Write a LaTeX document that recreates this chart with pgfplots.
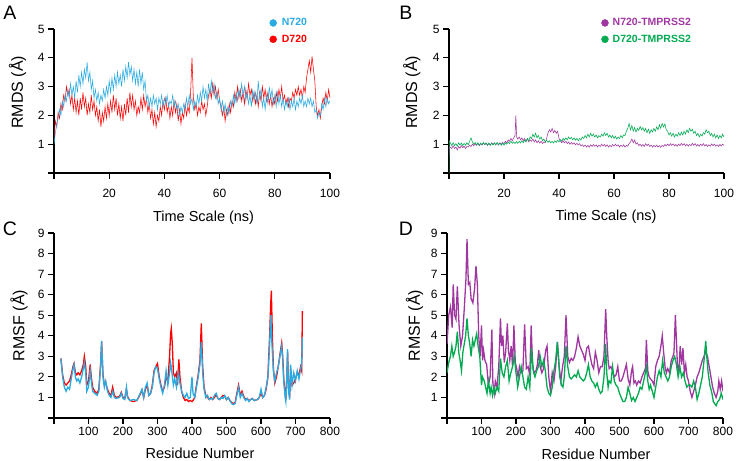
\documentclass[border=0pt]{standalone}
\usepackage{pgfplots}
\pgfplotsset{compat=1.18}
\usepackage{fontspec}
\setmainfont{Liberation Sans}
\definecolor{cblue}{RGB}{41,171,226}
\definecolor{cred}{RGB}{255,0,0}
\definecolor{cpurple}{RGB}{160,55,160}
\definecolor{cgreen}{RGB}{0,170,80}
\pgfplotsset{
 panel/.style={
  scale only axis,
  axis lines=left, axis line style={-, line width=1.2pt, black},
  tick align=outside, major tick length=6pt,
  tick style={black, line width=1.2pt},
  enlargelimits=false,
  ticklabel style={font=\fontsize{12}{14}\selectfont},
  xlabel style={font=\fontsize{14.5}{17}\selectfont, anchor=center},
  ylabel style={font=\fontsize{16}{19}\selectfont, anchor=center, rotate=0},
  legend style={draw=none, fill=none, inner sep=0pt, row sep=3.5pt,
    font=\fontsize{10.5}{12}\selectfont\bfseries, cells={anchor=west}},
  legend image code/.code={\fill[##1] (3.5pt,0pt) circle (3.5pt);},
 },
 rmsd/.style={panel, width=276pt, height=144pt, xmin=0, xmax=100, ymin=0, ymax=5,
  xtick={0,20,40,60,80,100}, xticklabels={,20,40,60,80,100},
  ytick={0,1,2,3,4,5}, yticklabels={,1,2,3,4,5},
  xticklabel style={yshift=-7pt},
  xlabel={Time Scale (ns)}, ylabel={RMDS (Å)}},
 rmsf/.style={panel, width=276pt, height=185pt, xmin=0, xmax=800, ymin=0, ymax=9,
  xtick={0,100,200,300,400,500,600,700,800}, xticklabels={,100,200,300,400,500,600,700,800},
  ytick={0,1,2,3,4,5,6,7,8,9}, yticklabels={,1,2,3,4,5,6,7,8,9},
  xlabel={Residue Number}, ylabel={RMSF (Å)}},
}
\begin{document}
\begin{tikzpicture}
\useasboundingbox (0pt,0pt) rectangle (740pt,461pt);
\node[font=\fontsize{19.5}{22}\selectfont] at (10pt,448.5pt) {A};
\node[font=\fontsize{19.5}{22}\selectfont] at (406pt,448.5pt) {B};
\node[font=\fontsize{19.5}{22}\selectfont] at (10pt,232pt) {C};
\node[font=\fontsize{19.5}{22}\selectfont] at (406pt,232pt) {D};
% ---------------- A
\begin{axis}[rmsd, at={(54pt,288pt)}, anchor=south west,
  xlabel style={at={(axis description cs:0.542,-0.3125)}},
  ylabel style={at={(axis description cs:-0.132,0.56)}},
  legend style={at={(0.78,1.088)}, anchor=north west}]
\addlegendimage{cblue}\addlegendentry{\hspace{3pt}\textcolor{cblue}{N720}}
\addlegendimage{cred}\addlegendentry{\hspace{3pt}\textcolor{cred}{D720}}
\addplot[cred, line width=0.55pt, forget plot] coordinates {
(0,1.2)(0.5,1.8)(1,1.6)(1.5,2.1)(2,1.9)(2.5,2.4)(3,2.2)(3.5,2.7)(4,2.5)(4.5,3.0)(5,2.7)(5.5,2.9)(6,2.4)(6.5,2.7)(7,2.2)(7.5,2.6)(8,2.1)(8.5,2.5)(9,2.0)(9.5,2.6)
(10,2.2)(10.5,2.8)(11,2.3)(11.5,2.6)(12,2.0)(12.5,2.4)(13,2.1)(13.5,2.7)(14,2.2)(14.5,2.5)(15,2.0)(15.5,2.3)(16,1.8)(16.5,2.2)(17,1.6)(17.5,2.1)(18,1.8)(18.5,2.3)(19,1.9)(19.5,2.4)
(20,2.0)(20.5,2.5)(21,2.1)(21.5,2.7)(22,2.2)(22.5,2.6)(23,2.0)(23.5,2.4)(24,1.9)(24.5,2.3)(25,1.8)(25.5,2.4)(26,2.0)(26.5,2.6)(27,2.1)(27.5,2.8)(28,2.3)(28.5,2.7)(29,2.2)(29.5,2.5)
(30,2.0)(30.5,2.3)(31,2.1)(31.5,2.6)(32,2.2)(32.5,2.7)(33,2.3)(33.5,2.6)(34,2.1)(34.5,2.4)(35,1.9)(35.5,2.2)(36,1.7)(36.5,2.1)(37,1.6)(37.5,2.0)(38,1.8)(38.5,2.3)(39,2.0)(39.5,2.5)
(40,2.2)(40.5,2.6)(41,2.1)(41.5,2.4)(42,1.9)(42.5,2.3)(43,2.0)(43.5,2.5)(44,2.1)(44.5,2.4)(45,1.8)(45.5,2.2)(46,1.7)(46.5,2.1)(47,1.9)(47.5,2.4)(48,2.0)(48.5,2.3)(49,2.1)(49.5,2.8)
(50,4.0)(50.5,2.6)(51,2.2)(51.5,2.4)(52,2.0)(52.5,2.3)(53,2.1)(53.5,2.5)(54,2.2)(54.5,2.4)(55,2.0)(55.5,2.3)(56,2.7)(56.5,2.9)(57,2.6)(57.5,3.1)(58,2.7)(58.5,3.0)(59,2.6)(59.5,2.9)
(60,2.5)(60.5,2.3)(61,2.0)(61.5,2.3)(62,1.8)(62.5,2.2)(63,2.0)(63.5,2.4)(64,2.1)(64.5,2.5)(65,2.3)(65.5,2.8)(66,2.5)(66.5,3.0)(67,2.6)(67.5,2.9)(68,2.5)(68.5,2.8)(69,2.4)(69.5,2.9)
(70,2.6)(70.5,3.1)(71,2.7)(71.5,2.9)(72,2.5)(72.5,2.8)(73,2.4)(73.5,2.7)(74,2.3)(74.5,2.8)(75,2.5)(75.5,3.0)(76,2.6)(76.5,2.9)(77,2.5)(77.5,2.8)(78,2.4)(78.5,2.7)(79,2.3)(79.5,2.6)
(80,2.4)(80.5,2.8)(81,2.5)(81.5,2.9)(82,2.6)(82.5,3.0)(83,2.5)(83.5,2.7)(84,2.4)(84.5,2.6)(85,2.3)(85.5,2.6)(86,2.5)(86.5,2.8)(87,2.6)(87.5,2.9)(88,2.7)(88.5,3.0)(89,2.7)(89.5,2.9)
(90,2.6)(90.5,3.0)(91,2.8)(91.5,3.3)(92,3.6)(92.5,3.9)(93,3.5)(93.5,4.05)(94,3.6)(94.5,3.2)(95,2.3)(95.5,2.0)(96,2.2)(96.5,1.9)(97,2.3)(97.5,2.6)(98,2.4)(98.5,2.8)(99,2.5)(99.5,2.9)(100,2.6)};
\addplot[cblue, line width=0.55pt, forget plot] coordinates {
(0,1.0)(0.5,1.4)(1,1.7)(1.5,1.9)(2,2.2)(2.5,2.0)(3,2.5)(3.5,2.3)(4,2.7)(4.5,2.5)(5,2.9)(5.5,2.6)(6,3.1)(6.5,2.7)(7,3.0)(7.5,2.6)(8,3.2)(8.5,2.8)(9,3.4)(9.5,3.0)
(10,3.5)(10.5,3.1)(11,3.6)(11.5,3.3)(12,3.85)(12.5,3.2)(13,3.5)(13.5,2.9)(14,3.2)(14.5,2.6)(15,2.9)(15.5,2.5)(16,2.8)(16.5,2.4)(17,2.7)(17.5,2.5)(18,2.9)(18.5,2.6)(19,3.0)(19.5,2.7)
(20,3.2)(20.5,2.8)(21,3.3)(21.5,2.9)(22,3.4)(22.5,3.0)(23,3.5)(23.5,3.1)(24,3.4)(24.5,3.0)(25,3.6)(25.5,3.2)(26,3.7)(26.5,3.3)(27,3.85)(27.5,3.4)(28,3.7)(28.5,3.2)(29,3.6)(29.5,3.1)
(30,3.5)(30.5,3.0)(31,3.6)(31.5,3.1)(32,3.5)(32.5,2.9)(33,3.2)(33.5,2.5)(34,2.7)(34.5,2.3)(35,2.6)(35.5,2.3)(36,2.7)(36.5,2.4)(37,2.6)(37.5,2.2)(38,2.6)(38.5,2.4)(39,2.7)(39.5,2.3)
(40,2.6)(40.5,2.4)(41,2.7)(41.5,2.3)(42,2.5)(42.5,2.4)(43,2.7)(43.5,2.3)(44,2.5)(44.5,2.2)(45,2.4)(45.5,2.0)(46,2.3)(46.5,2.1)(47,2.4)(47.5,2.2)(48,2.6)(48.5,2.3)(49,2.7)(49.5,2.4)
(50,2.6)(50.5,2.2)(51,2.5)(51.5,2.3)(52,2.7)(52.5,2.4)(53,2.8)(53.5,2.5)(54,3.0)(54.5,2.6)(55,2.9)(55.5,2.5)(56,3.1)(56.5,2.7)(57,3.2)(57.5,2.8)(58,3.1)(58.5,2.6)(59,2.8)(59.5,2.4)
(60,2.6)(60.5,2.2)(61,2.5)(61.5,2.1)(62,2.4)(62.5,2.0)(63,2.3)(63.5,2.1)(64,2.5)(64.5,2.3)(65,2.7)(65.5,2.4)(66,2.8)(66.5,2.5)(67,2.9)(67.5,2.6)(68,3.1)(68.5,2.7)(69,3.0)(69.5,2.5)
(70,2.8)(70.5,2.4)(71,2.7)(71.5,2.3)(72,2.9)(72.5,2.5)(73,2.8)(73.5,2.4)(74,3.2)(74.5,2.6)(75,2.9)(75.5,2.3)(76,2.6)(76.5,2.2)(77,2.7)(77.5,2.4)(78,3.0)(78.5,2.6)(79,2.9)(79.5,2.4)
(80,2.7)(80.5,2.3)(81,2.8)(81.5,2.4)(82,2.7)(82.5,2.3)(83,2.6)(83.5,2.2)(84,2.5)(84.5,2.3)(85,2.6)(85.5,2.2)(86,2.5)(86.5,2.3)(87,2.6)(87.5,2.2)(88,2.5)(88.5,2.3)(89,2.6)(89.5,2.4)
(90,2.7)(90.5,2.3)(91,2.5)(91.5,2.3)(92,2.6)(92.5,2.4)(93,2.6)(93.5,2.3)(94,2.5)(94.5,2.1)(95,2.2)(95.5,1.9)(96,2.1)(96.5,2.0)(97,2.4)(97.5,2.2)(98,2.6)(98.5,2.3)(99,2.6)(99.5,2.4)(100,2.5)};
\end{axis}
% ---------------- B
\begin{axis}[rmsd, at={(449pt,288pt)}, anchor=south west, width=275pt,
  xlabel style={at={(axis description cs:0.571,-0.306)}},
  ylabel style={at={(axis description cs:-0.135,0.56)}},
  legend style={at={(0.553,1.088)}, anchor=north west}]
\addlegendimage{cpurple}\addlegendentry{\hspace{2pt}\textcolor{cpurple}{N720-TMPRSS2}}
\addlegendimage{cgreen}\addlegendentry{\hspace{2pt}\textcolor{cgreen}{D720-TMPRSS2}}
\addplot[cpurple, line width=0.55pt, forget plot] coordinates {
(0,0.6)(0.2,0.9)(0.5,0.9)(1,0.85)(1.5,0.95)(2,0.85)(2.5,0.9)(3,0.8)(3.5,0.92)(4,0.86)(4.5,0.95)(5,0.88)(5.5,0.93)(6,0.85)(6.5,0.92)(7,0.9)(7.5,0.97)(8,0.92)(8.5,1.0)(9,0.95)(9.5,1.02)
(10,0.96)(10.5,1.03)(11,0.95)(11.5,1.02)(12,0.97)(12.5,1.04)(13,0.98)(13.5,1.03)(14,0.96)(14.5,1.02)(15,0.97)(15.5,1.05)(16,0.99)(16.5,1.04)(17,0.98)(17.5,1.03)(18,0.97)(18.5,1.05)(19,1.0)(19.5,1.06)
(20,1.02)(20.5,1.1)(21,1.05)(21.5,1.15)(22,1.1)(22.5,1.2)(23,1.12)(23.5,1.22)(24,1.3)(24.3,2.0)(24.6,1.25)(25,1.18)(25.5,1.25)(26,1.15)(26.5,1.22)(27,1.12)(27.5,1.2)(28,1.1)(28.5,1.18)(29,1.08)(29.5,1.15)
(30,1.1)(30.5,1.18)(31,1.08)(31.5,1.15)(32,1.05)(32.5,1.12)(33,1.04)(33.5,1.1)(34,1.02)(34.5,1.08)(35,1.05)(35.5,1.2)(36,1.4)(36.5,1.5)(37,1.42)(37.5,1.55)(38,1.4)(38.5,1.48)(39,1.38)(39.5,1.45)
(40,1.2)(40.5,1.12)(41,1.05)(41.5,1.12)(42,1.05)(42.5,1.1)(43,1.02)(43.5,1.08)(44,1.0)(44.5,1.06)(45,1.0)(45.5,1.05)(46,0.98)(46.5,1.03)(47,0.97)(47.5,1.02)(48,0.94)(48.5,0.98)(49,0.92)(49.5,0.97)
(50,0.9)(50.5,0.96)(51,0.9)(51.5,0.98)(52,0.92)(52.5,0.99)(53,0.93)(53.5,0.98)(54,0.9)(54.5,0.97)(55,0.92)(55.5,1.0)(56,0.94)(56.5,0.99)(57,0.92)(57.5,0.98)(58,0.9)(58.5,0.96)(59,0.91)(59.5,0.99)
(60,0.93)(60.5,1.0)(61,0.94)(61.5,0.98)(62,0.9)(62.5,0.97)(63,0.92)(63.5,0.98)(64,0.9)(64.5,0.96)(65,0.93)(65.5,1.02)(66,1.08)(66.5,1.18)(67,1.05)(67.5,1.15)(68,1.0)(68.5,1.05)(69,0.95)(69.5,1.0)
(70,0.93)(70.5,0.99)(71,0.92)(71.5,1.02)(72,0.95)(72.5,1.0)(73,0.92)(73.5,0.97)(74,0.9)(74.5,0.96)(75,0.91)(75.5,0.97)(76,0.9)(76.5,0.95)(77,0.89)(77.5,0.96)(78,0.92)(78.5,0.99)(79,0.94)(79.5,1.0)
(80,0.95)(80.5,1.02)(81,0.96)(81.5,1.01)(82,0.94)(82.5,0.99)(83,0.93)(83.5,1.0)(84,0.95)(84.5,1.03)(85,0.96)(85.5,1.02)(86,0.94)(86.5,1.0)(87,0.93)(87.5,0.99)(88,0.95)(88.5,1.03)(89,0.96)(89.5,1.02)
(90,0.94)(90.5,0.99)(91,0.93)(91.5,1.0)(92,0.95)(92.5,1.02)(93,0.94)(93.5,0.99)(94,0.92)(94.5,0.98)(95,0.93)(95.5,1.01)(96,0.95)(96.5,1.0)(97,0.93)(97.5,0.98)(98,0.92)(98.5,0.99)(99,0.94)(99.5,1.0)(100,0.96)};
\addplot[cgreen, line width=0.55pt, forget plot] coordinates {
(0,0.0)(0.1,1.12)(0.5,1.05)(1,0.95)(1.5,1.05)(2,0.95)(2.5,1.02)(3,0.93)(3.5,1.05)(4,0.97)(4.5,1.04)(5,0.95)(5.5,1.03)(6,0.96)(6.5,1.05)(7,0.98)(7.5,1.1)(8,1.22)(8.5,1.08)(9,1.0)(9.5,1.06)
(10,0.98)(10.5,1.05)(11,0.96)(11.5,1.04)(12,0.98)(12.5,1.06)(13,0.99)(13.5,1.05)(14,0.97)(14.5,1.04)(15,0.96)(15.5,1.03)(16,0.97)(16.5,1.05)(17,0.98)(17.5,1.06)(18,0.99)(18.5,1.04)(19,0.96)(19.5,1.03)
(20,0.97)(20.5,1.05)(21,1.0)(21.5,1.07)(22,1.02)(22.5,1.1)(23,1.03)(23.5,1.08)(24,1.02)(24.5,1.09)(25,1.03)(25.5,1.1)(26,1.04)(26.5,1.12)(27,1.05)(27.5,1.15)(28,1.08)(28.5,1.2)(29,1.12)(29.5,1.25)
(30,1.2)(30.5,1.35)(31,1.25)(31.5,1.38)(32,1.22)(32.5,1.3)(33,1.18)(33.5,1.25)(34,1.12)(34.5,1.18)(35,1.08)(35.5,1.14)(36,1.06)(36.5,1.12)(37,1.05)(37.5,1.1)(38,1.04)(38.5,1.12)(39,1.06)(39.5,1.14)
(40,1.08)(40.5,1.16)(41,1.1)(41.5,1.2)(42,1.14)(42.5,1.22)(43,1.15)(43.5,1.25)(44,1.18)(44.5,1.24)(45,1.15)(45.5,1.22)(46,1.14)(46.5,1.2)(47,1.12)(47.5,1.2)(48,1.15)(48.5,1.25)(49,1.2)(49.5,1.3)
(50,1.22)(50.5,1.35)(51,1.25)(51.5,1.38)(52,1.28)(52.5,1.35)(53,1.25)(53.5,1.32)(54,1.22)(54.5,1.3)(55,1.25)(55.5,1.35)(56,1.28)(56.5,1.4)(57,1.3)(57.5,1.38)(58,1.25)(58.5,1.32)(59,1.22)(59.5,1.3)
(60,1.2)(60.5,1.28)(61,1.18)(61.5,1.25)(62,1.2)(62.5,1.3)(63,1.22)(63.5,1.32)(64,1.3)(64.5,1.45)(65,1.55)(65.5,1.72)(66,1.5)(66.5,1.65)(67,1.45)(67.5,1.58)(68,1.42)(68.5,1.55)(69,1.48)(69.5,1.62)
(70,1.5)(70.5,1.58)(71,1.45)(71.5,1.55)(72,1.4)(72.5,1.52)(73,1.38)(73.5,1.5)(74,1.42)(74.5,1.55)(75,1.45)(75.5,1.6)(76,1.5)(76.5,1.68)(77,1.55)(77.5,1.72)(78,1.6)(78.5,1.7)(79,1.5)(79.5,1.45)
(80,1.32)(80.5,1.4)(81,1.28)(81.5,1.38)(82,1.25)(82.5,1.35)(83,1.28)(83.5,1.4)(84,1.3)(84.5,1.42)(85,1.32)(85.5,1.45)(86,1.35)(86.5,1.5)(87,1.4)(87.5,1.55)(88,1.45)(88.5,1.52)(89,1.38)(89.5,1.45)
(90,1.3)(90.5,1.38)(91,1.25)(91.5,1.35)(92,1.28)(92.5,1.4)(93,1.35)(93.5,1.5)(94,1.4)(94.5,1.45)(95,1.3)(95.5,1.38)(96,1.25)(96.5,1.35)(97,1.22)(97.5,1.32)(98,1.2)(98.5,1.3)(99,1.22)(99.5,1.35)(100,1.25)};
\end{axis}
% ---------------- C
\begin{axis}[rmsf, at={(54pt,43pt)}, anchor=south west,
  xlabel style={at={(axis description cs:0.529,-0.189)}},
  ylabel style={at={(axis description cs:-0.127,0.5)}}]
\addplot[cred, line width=1.3pt] coordinates {
(20,2.9)(25,2.1)(30,1.7)(35,1.6)(40,1.7)(45,1.8)(50,2.1)(55,2.5)(58,2.65)(62,2.2)(66,2.1)(70,2.2)(75,2.1)(80,2.3)(85,2.6)(88,3.0)(92,2.5)(95,1.6)(100,1.8)(105,2.6)(108,2.0)(112,1.5)(118,1.3)(125,1.2)(130,1.4)(135,2.6)(138,3.7)(142,2.1)(146,1.6)(150,1.7)(155,1.4)(160,1.2)(165,1.1)(170,1.5)(175,1.1)(180,1.0)(190,1.05)(195,1.25)(200,1.0)(205,0.95)(210,1.4)(213,1.05)(220,0.85)(230,0.8)(240,0.85)(250,1.15)(255,1.35)(260,1.0)(265,1.4)(270,1.6)(275,1.1)(280,1.2)(285,1.6)(290,2.3)(295,2.5)(300,2.65)(305,2.0)(310,1.6)(315,1.3)(320,1.5)(325,2.0)(330,1.8)(335,3.0)(338,4.1)(340,4.35)(343,3.6)(346,2.2)(350,2.0)(355,2.2)(358,1.6)(362,2.85)(365,2.0)(370,1.3)(375,1.0)(380,0.85)(385,0.9)(390,0.8)(395,0.85)(400,0.8)(403,0.85)(408,1.0)(412,1.5)(418,2.1)(423,2.8)(427,4.6)(431,2.5)(435,1.5)(440,1.1)(445,1.0)(450,0.9)(455,1.0)(460,0.9)(465,1.0)(470,1.15)(475,0.95)(480,0.9)(485,1.0)(490,1.1)(495,1.05)(500,0.9)(505,1.0)(510,0.85)(515,0.75)(520,0.7)(525,0.75)(530,1.2)(535,1.6)(540,1.1)(545,1.3)(550,1.05)(555,0.9)(560,0.95)(565,0.85)(570,0.9)(575,0.95)(580,0.85)(590,0.9)(595,1.0)(600,1.2)(605,1.0)(610,1.1)(615,1.4)(620,2.0)(625,4.0)(628,5.5)(630,6.2)(633,4.0)(636,2.4)(640,1.7)(645,2.0)(650,2.5)(655,3.1)(660,3.65)(663,3.0)(666,1.9)(670,1.2)(672,0.9)(675,2.0)(677,3.2)(680,1.5)(683,1.0)(686,2.4)(690,1.6)(695,1.7)(700,1.9)(705,2.2)(710,2.1)(715,2.5)(718,2.3)(720,5.2)};
\addplot[cblue, line width=1.3pt] coordinates {
(20,2.9)(25,2.0)(30,1.5)(35,1.3)(40,1.5)(45,1.4)(50,1.9)(55,2.4)(58,2.6)(62,2.0)(66,1.8)(70,1.9)(75,1.7)(80,2.0)(85,2.4)(88,2.7)(92,2.2)(95,1.3)(100,1.5)(105,2.3)(108,1.8)(112,1.3)(118,1.2)(125,1.1)(130,1.3)(135,2.5)(138,3.75)(142,2.0)(146,1.5)(150,1.8)(155,1.3)(160,1.1)(165,1.0)(170,1.3)(175,1.0)(180,0.95)(190,1.0)(195,1.2)(200,0.95)(205,0.9)(210,1.5)(213,1.0)(220,0.85)(230,0.9)(240,0.85)(250,1.2)(255,1.4)(260,1.0)(265,1.5)(270,1.7)(275,1.1)(280,1.2)(285,1.5)(290,2.2)(295,2.5)(300,2.4)(305,1.9)(310,1.5)(315,1.2)(320,1.6)(325,2.3)(330,1.6)(335,2.2)(338,2.7)(342,2.2)(346,1.6)(350,1.9)(355,1.5)(360,2.2)(365,1.7)(370,1.3)(375,1.1)(380,1.0)(385,1.2)(390,0.95)(395,1.0)(400,2.0)(403,1.2)(408,1.0)(412,1.4)(418,2.0)(423,2.6)(427,3.7)(431,2.2)(435,1.4)(440,1.0)(445,1.1)(450,0.9)(455,0.95)(460,0.9)(465,1.1)(470,1.2)(475,0.95)(480,0.9)(485,1.0)(490,0.95)(495,1.1)(500,0.9)(505,1.0)(510,0.85)(515,0.7)(520,0.65)(525,0.7)(530,1.1)(535,1.5)(540,1.0)(545,1.2)(550,1.0)(555,0.85)(560,0.95)(565,0.8)(570,0.9)(575,0.95)(580,0.85)(590,0.9)(595,1.0)(600,1.4)(605,1.0)(610,1.1)(615,1.5)(620,2.0)(625,3.5)(628,5.0)(632,3.5)(636,2.3)(640,1.8)(645,2.2)(650,2.5)(655,3.0)(660,3.5)(663,2.8)(666,1.8)(670,1.0)(672,0.8)(675,2.0)(677,3.35)(680,1.3)(683,0.9)(686,2.6)(690,1.6)(695,2.2)(700,1.8)(705,2.3)(710,1.9)(715,2.4)(718,2.6)(720,3.9)};
\end{axis}
% ---------------- D
\begin{axis}[rmsf, at={(447pt,43pt)}, anchor=south west,
  xlabel style={at={(axis description cs:0.54,-0.195)}},
  ylabel style={at={(axis description cs:-0.118,0.5)}}]
\addplot[cpurple, line width=1.3pt] coordinates {
(0,3.6)(5,5.0)(10,5.4)(15,4.4)(18,6.5)(22,5.0)(26,4.8)(30,6.4)(35,4.5)(40,3.5)(45,4.0)(50,5.3)(55,6.8)(58,8.7)(62,6.5)(66,6.6)(70,5.8)(75,5.6)(80,6.3)(84,7.4)(88,6.5)(92,4.0)(96,3.0)(100,4.5)(103,2.8)(106,3.3)(110,2.8)(115,2.6)(120,1.6)(125,2.0)(130,4.3)(133,1.7)(137,1.2)(140,1.8)(145,1.5)(150,2.5)(155,4.85)(158,3.5)(162,4.0)(166,2.7)(170,3.2)(175,4.6)(178,3.3)(182,2.8)(186,3.5)(190,2.5)(194,4.5)(198,2.7)(202,2.4)(206,2.0)(210,2.5)(215,2.2)(220,2.3)(225,4.55)(230,2.4)(235,2.5)(240,2.1)(244,4.5)(248,2.6)(252,2.2)(258,2.3)(262,2.6)(266,3.3)(270,2.5)(275,2.2)(280,2.4)(286,3.3)(290,3.5)(295,2.0)(300,1.3)(305,2.2)(310,1.8)(315,2.5)(320,3.7)(325,2.5)(330,1.8)(335,2.5)(340,3.0)(345,5.0)(350,3.0)(355,2.7)(360,2.9)(365,2.8)(370,3.0)(375,3.4)(380,3.95)(385,3.5)(390,3.3)(395,3.1)(400,2.8)(405,3.4)(410,3.5)(415,3.0)(420,2.6)(425,2.4)(430,3.2)(435,2.8)(440,2.2)(445,2.5)(450,2.5)(455,3.0)(460,5.3)(463,4.0)(467,2.8)(470,2.4)(475,2.5)(480,2.3)(485,2.0)(490,2.1)(495,2.5)(500,1.8)(505,1.8)(510,2.0)(515,2.3)(520,2.6)(525,1.9)(530,1.6)(535,2.3)(538,2.5)(542,1.7)(546,1.8)(550,1.6)(555,1.8)(560,1.7)(565,2.0)(570,2.2)(575,2.4)(578,3.8)(582,2.3)(586,2.0)(590,1.9)(595,1.8)(600,1.6)(605,2.5)(610,2.8)(615,3.0)(620,3.5)(624,4.0)(628,3.2)(632,2.5)(636,2.2)(640,2.4)(645,2.2)(650,2.8)(655,3.0)(658,3.2)(662,5.0)(665,3.8)(668,2.5)(672,2.3)(676,3.5)(680,2.6)(684,3.4)(688,2.2)(692,2.6)(696,2.0)(700,1.8)(705,1.3)(710,1.0)(715,1.3)(720,1.6)(725,2.0)(730,2.2)(735,2.5)(740,2.8)(745,3.0)(750,3.2)(755,3.0)(760,2.5)(765,2.0)(770,1.5)(775,1.2)(780,1.0)(785,1.3)(788,1.8)(792,1.4)(796,1.8)(800,1.3)};
\addplot[cgreen, line width=1.3pt] coordinates {
(0,2.2)(5,2.7)(10,3.0)(14,3.5)(18,3.0)(22,3.2)(26,3.5)(30,4.2)(34,3.2)(38,2.8)(42,2.3)(46,3.2)(50,3.6)(54,4.0)(58,4.85)(62,4.0)(66,3.6)(70,3.0)(74,3.8)(78,3.5)(82,3.8)(86,4.1)(90,3.5)(95,3.0)(100,1.6)(103,2.0)(108,1.8)(112,1.5)(116,1.2)(120,1.8)(125,1.2)(128,1.5)(132,1.1)(136,1.5)(140,1.2)(145,1.5)(150,1.3)(155,2.9)(160,2.2)(165,2.0)(170,2.5)(175,2.8)(180,1.8)(185,2.2)(190,2.5)(195,3.0)(200,2.2)(205,1.5)(210,2.0)(215,2.5)(220,2.0)(225,1.5)(230,1.4)(235,2.0)(240,1.5)(245,3.4)(250,2.3)(255,2.0)(260,2.3)(265,2.5)(270,3.0)(275,2.5)(280,2.8)(285,2.3)(290,1.5)(295,1.2)(300,1.1)(305,1.5)(310,2.3)(315,2.8)(320,3.7)(323,3.0)(327,2.0)(332,1.6)(336,1.5)(340,2.0)(345,3.5)(350,2.5)(355,2.0)(360,1.9)(365,2.0)(370,2.1)(375,2.0)(380,2.3)(385,2.0)(390,1.9)(395,1.8)(400,1.9)(405,2.2)(410,2.6)(415,2.0)(420,1.8)(425,1.7)(430,1.5)(435,1.7)(440,1.4)(445,1.2)(450,1.3)(455,2.0)(460,3.6)(463,2.2)(467,1.5)(470,1.8)(475,1.7)(480,2.5)(485,1.8)(490,1.6)(495,1.5)(500,1.2)(505,1.0)(510,0.8)(515,0.8)(520,1.0)(525,1.5)(530,1.2)(535,0.85)(540,1.0)(545,0.8)(550,1.0)(555,1.2)(560,1.5)(565,1.4)(570,1.8)(575,2.2)(578,2.5)(582,1.8)(586,1.4)(590,1.6)(595,1.3)(600,1.0)(605,1.5)(610,2.0)(615,2.3)(620,2.0)(625,2.8)(630,2.2)(635,2.0)(640,1.8)(645,2.0)(650,2.5)(655,2.8)(660,3.0)(665,2.6)(670,2.0)(675,2.5)(680,2.0)(685,2.2)(690,1.8)(695,1.5)(700,1.6)(705,1.6)(710,1.5)(715,1.8)(720,1.5)(725,0.9)(730,1.2)(735,1.6)(740,2.0)(745,2.8)(750,3.75)(753,3.0)(757,2.2)(762,1.6)(768,1.2)(772,0.8)(776,0.7)(780,0.6)(785,0.8)(790,0.9)(795,1.2)(800,0.9)};
\end{axis}
\end{tikzpicture}
\end{document}
